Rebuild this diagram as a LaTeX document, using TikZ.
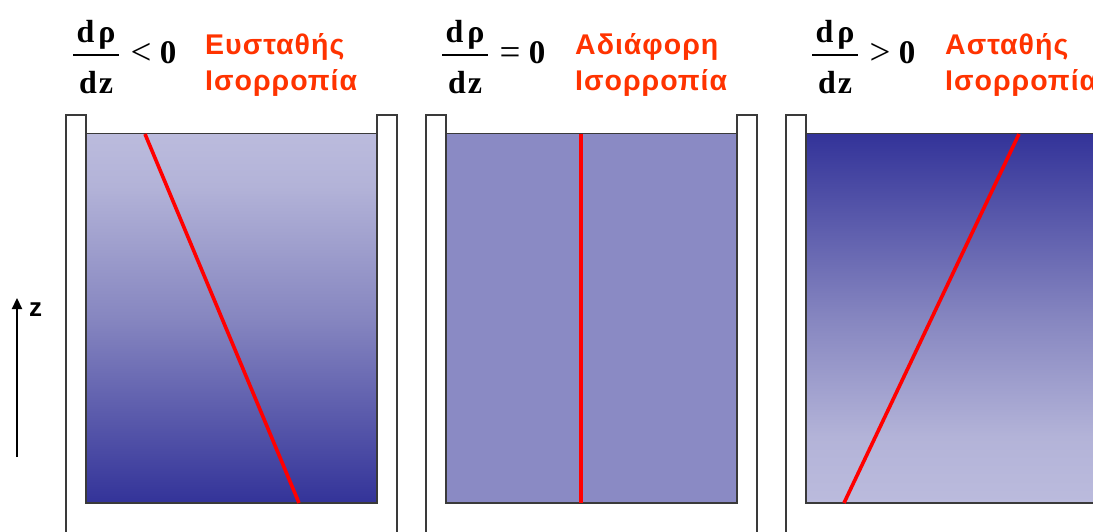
\documentclass[tikz,border=0pt]{standalone}
\usepackage{fontspec}
\setmainfont{Liberation Serif}
\setsansfont{Liberation Sans}
\usetikzlibrary{arrows.meta}
\definecolor{lightfluid}{HTML}{BBBBDD}
\definecolor{lightfluidb}{HTML}{B3B3D8}
\definecolor{darkfluid}{HTML}{333399}
\definecolor{midfluid}{HTML}{8686C0}
\definecolor{evenfluid}{HTML}{8A8AC4}
\definecolor{labelred}{HTML}{FF3300}
\definecolor{wallgray}{HTML}{3A3A3A}
\pgfdeclareverticalshading{stableshade}{100bp}{color(0bp)=(darkfluid); color(25bp)=(darkfluid); color(50bp)=(midfluid); color(68bp)=(lightfluidb); color(75bp)=(lightfluid); color(100bp)=(lightfluid)}
\pgfdeclareverticalshading{unstableshade}{100bp}{color(0bp)=(lightfluid); color(25bp)=(lightfluid); color(34bp)=(lightfluidb); color(50bp)=(midfluid); color(75bp)=(darkfluid); color(100bp)=(darkfluid)}
\tikzset{
  wall/.style={draw=wallgray, line width=1.6pt},
  fluidedge/.style={draw=wallgray, line width=1pt},
  profile/.style={draw=red, line width=3.6pt},
  greeklabel/.style={font=\sffamily\bfseries\fontsize{28.5}{30}\selectfont\addfontfeatures{LetterSpace=3.5}, text=labelred, anchor=base west, inner sep=0pt},
  fracpart/.style={font=\bfseries\fontsize{32}{32}\selectfont, anchor=base, inner sep=0pt},
  fracbar/.style={draw=black, line width=1.6pt},
  relsym/.style={font=\fontsize{37}{37}\selectfont, anchor=base, inner sep=0pt},
  zeropart/.style={font=\bfseries\fontsize{33}{33}\selectfont, anchor=base, inner sep=0pt},
  axisarrow/.style={draw=black, line width=2.2pt, -{Triangle[width=10pt,length=11pt]}},
  axislabel/.style={font=\sffamily\bfseries\fontsize{26}{26}\selectfont, anchor=base west, inner sep=0pt}
}
\begin{document}
\begin{tikzpicture}[x=1pt,y=-1pt]
\useasboundingbox (0,0) rectangle (1093,532);
\fill[white] (0,0) rectangle (1093,532);
% fluids
\shade[shading=stableshade] (86,134) rectangle (377,503);
\fill[evenfluid] (446,134) rectangle (737,503);
\shade[shading=unstableshade] (806,134) rectangle (1097,503);
\foreach \o in {0,360,720}{
  \draw[fluidedge] (86+\o,134) rectangle (377+\o,503);
  \draw[wall] (66+\o,545) -- (66+\o,115) -- (86+\o,115) -- (86+\o,503) -- (377+\o,503) -- (377+\o,115) -- (397+\o,115) -- (397+\o,545);
}
% density profiles
\coordinate (p1t) at (145,134); \coordinate (p1b) at (299,503);
\coordinate (p2t) at (581,134); \coordinate (p2b) at (581,503);
\coordinate (p3t) at (1019,134); \coordinate (p3b) at (844,503);
\draw[profile] (p1t) -- (p1b);
\draw[profile] (p2t) -- (p2b);
\draw[profile] (p3b) -- (p3t);
% z axis
\coordinate (zfoot) at (17,457);
\coordinate (ztip) at (17,298);
\draw[axisarrow] (zfoot) -- (ztip);
\node[axislabel] (zlab) at (29,316) {z};
% headers
\foreach \cx/\rel/\n in {96/{<}/a, 465/{=}/b, 835/{>}/c}{
  \node[fracpart] (num\n) at (\cx,43) {d\hspace{4pt}ρ};
  \node[fracpart] (den\n) at (\cx,94) {d\hspace{2pt}z};
  \draw[fracbar] (\cx-23,55) -- (\cx+23,55);
  \node[relsym] (rel\n) at (\cx+45,65) {\rel};
  \node[zeropart] (zero\n) at (\cx+72,64) {0};
}
\node[greeklabel] (ta1) at (205,55) {Ευσταθής};
\node[greeklabel] (ta2) at (205,91) {Ισορροπία};
\node[greeklabel] (tb1) at (575,55) {Αδιάφορη};
\node[greeklabel] (tb2) at (575,91) {Ισορροπία};
\node[greeklabel] (tc1) at (945,55) {Ασταθής};
\node[greeklabel] (tc2) at (945,91) {Ισορροπία};
\end{tikzpicture}
\end{document}
